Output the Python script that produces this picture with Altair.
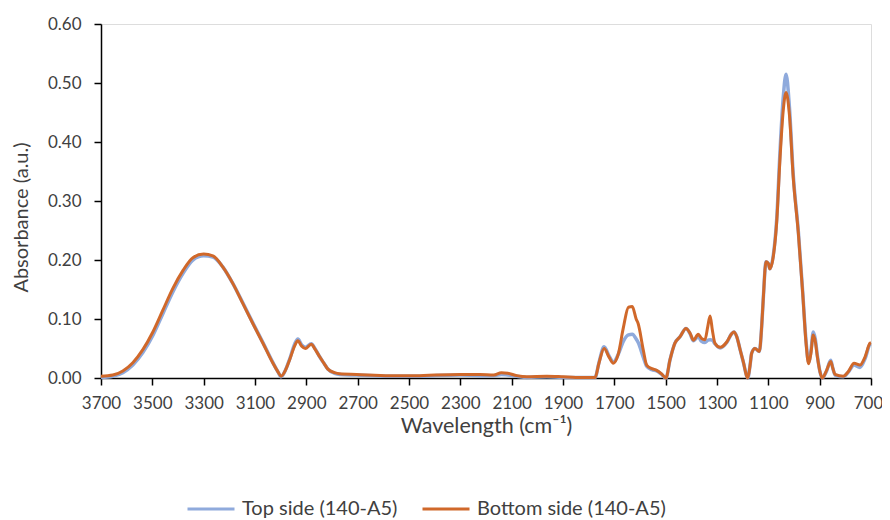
import altair as alt
import pandas as pd

# Wavenumbers (cm-1) shared by both spectra
wavenumber = [3700, 3654, 3615, 3576, 3537, 3498, 3459, 3420, 3381, 3342, 3300, 3264, 3225,
              3186, 3147, 3108, 3069, 3030, 3010, 2998, 2985, 2965, 2945, 2933, 2918, 2904,
              2881, 2865, 2848, 2830, 2816, 2790, 2770, 2705, 2575, 2458, 2400, 2300, 2223,
              2170, 2140, 2115, 2080, 2041, 1963, 1900, 1850, 1800, 1775, 1760, 1740, 1720,
              1704, 1685, 1665, 1645, 1630, 1615, 1607, 1587, 1574, 1554, 1535, 1516, 1499,
              1483, 1464, 1444, 1421, 1405, 1392, 1373, 1360, 1347, 1336, 1327, 1318, 1308,
              1288, 1262, 1243, 1234, 1223, 1210, 1198, 1180, 1171, 1165, 1152, 1135, 1126,
              1120, 1109, 1100, 1094, 1081, 1067, 1055, 1042, 1031, 1018, 1003, 983, 966,
              953, 943, 934, 925, 917, 909, 899, 890, 873, 857, 849, 840, 808, 788, 766,
              743, 723, 704, 700]

bottom_side = [0.003, 0.005, 0.012, 0.026, 0.048, 0.078, 0.115, 0.152, 0.182, 0.204, 0.210, 0.207, 0.188,
               0.160, 0.126, 0.092, 0.059, 0.025, 0.010, 0.003, 0.010, 0.031, 0.055, 0.063, 0.054, 0.050,
               0.057, 0.048, 0.036, 0.024, 0.015, 0.009, 0.007, 0.006, 0.004, 0.004, 0.005, 0.006, 0.006,
               0.005, 0.009, 0.008, 0.004, 0.002, 0.003, 0.002, 0.001, 0.001, 0.001, 0.025, 0.050, 0.035,
               0.025, 0.040, 0.085, 0.120, 0.121, 0.100, 0.092, 0.047, 0.022, 0.016, 0.013, 0.007, 0.000,
               0.031, 0.059, 0.070, 0.084, 0.076, 0.064, 0.074, 0.067, 0.065, 0.087, 0.105, 0.081, 0.059,
               0.052, 0.061, 0.075, 0.078, 0.070, 0.048, 0.028, 0.000, 0.022, 0.042, 0.050, 0.045, 0.087,
               0.132, 0.197, 0.194, 0.185, 0.205, 0.267, 0.368, 0.453, 0.484, 0.447, 0.340, 0.245, 0.143,
               0.059, 0.024, 0.042, 0.073, 0.062, 0.036, 0.011, 0.000, 0.013, 0.028, 0.017, 0.006, 0.003, 0.011, 0.025,
               0.022, 0.036, 0.059, 0.060]

top_side = [0.001, 0.003, 0.009, 0.022, 0.043, 0.072, 0.109, 0.146, 0.177, 0.200, 0.207, 0.205, 0.188,
            0.160, 0.127, 0.093, 0.060, 0.026, 0.010, 0.002, 0.010, 0.032, 0.058, 0.066, 0.056, 0.052,
            0.058, 0.049, 0.036, 0.024, 0.015, 0.008, 0.006, 0.005, 0.003, 0.003, 0.004, 0.005, 0.004,
            0.004, 0.006, 0.005, 0.003, 0.001, 0.002, 0.001, 0.001, 0.001, 0.001, 0.026, 0.053, 0.037,
            0.027, 0.040, 0.062, 0.073, 0.074, 0.066, 0.060, 0.035, 0.020, 0.014, 0.012, 0.006, 0.000,
            0.031, 0.059, 0.070, 0.084, 0.075, 0.063, 0.070, 0.062, 0.060, 0.064, 0.065, 0.064, 0.058,
            0.051, 0.060, 0.075, 0.078, 0.070, 0.048, 0.028, 0.000, 0.022, 0.042, 0.050, 0.045, 0.087,
            0.132, 0.197, 0.194, 0.185, 0.207, 0.272, 0.380, 0.475, 0.515, 0.460, 0.345, 0.248, 0.145,
            0.062, 0.027, 0.046, 0.078, 0.066, 0.038, 0.011, 0.000, 0.012, 0.030, 0.017, 0.005, 0.002, 0.010, 0.022,
            0.018, 0.033, 0.057, 0.058]

series_names = ["Top side (140-A5)", "Bottom side (140-A5)"]
series_colors = ["#8FAADC", "#D0682A"]
x_ticks = list(range(3700, 699, -200))
y_ticks = [0.0, 0.1, 0.2, 0.3, 0.4, 0.5, 0.6]

df = pd.concat([
    pd.DataFrame({"wn": wavenumber, "abs": top_side, "series": series_names[0]}),
    pd.DataFrame({"wn": wavenumber, "abs": bottom_side, "series": series_names[1]}),
])

FONT = "Lato"
TXT = "#404040"

x_enc = alt.X("wn:Q",
              scale=alt.Scale(domain=[700, 3700], reverse=True, nice=False, zero=False),
              axis=alt.Axis(values=x_ticks, format="d", title="Wavelength (cm⁻¹)",
                            grid=False, tickSize=7, labelPadding=10,
                            labelOverlap=False, labelFlush=False, labelBound=False,
                            labelOffset={"condition": {"test": "datum.value == 700", "value": -3}, "value": 0},
                            domainColor="black", tickColor="black", domainWidth=1.5, tickWidth=1.5,
                            labelFont=FONT, labelFontSize=17, labelColor=TXT,
                            titleFont=FONT, titleFontSize=21.5, titleFontWeight="normal", titleColor=TXT,
                            titleX=385, titleY=48, titleBaseline="middle", titleAlign="center"))
y_enc = alt.Y("abs:Q",
              scale=alt.Scale(domain=[0, 0.6], nice=False),
              axis=alt.Axis(values=y_ticks, format=".2f", title="Absorbance (a.u.)",
                            grid=False, tickSize=7, labelPadding=13,
                            labelOverlap=False, labelFlush=False,
                            domainColor="black", tickColor="black", domainWidth=1.5, tickWidth=1.5,
                            labelFont=FONT, labelFontSize=17, labelColor=TXT,
                            titleFont=FONT, titleFontSize=20, titleFontWeight="normal", titleColor=TXT,
                            titleX=-80, titleY=193, titleAngle=270, titleBaseline="middle", titleAlign="center"))
color_enc = alt.Color("series:N",
                      scale=alt.Scale(domain=series_names, range=series_colors),
                      legend=alt.Legend(orient="none", direction="horizontal", title=None,
                                        legendX=85, legendY=460,
                                        symbolType="stroke", symbolSize=2209, symbolStrokeWidth=3,
                                        labelFont=FONT, labelFontSize=20, labelColor=TXT,
                                        labelLimit=400, labelOffset=6, columnPadding=18))

base = alt.Chart(df)
top_line = base.transform_filter(alt.datum.series == series_names[0]).mark_line(
    strokeWidth=3.5, interpolate="monotone").encode(x=x_enc, y=y_enc, color=color_enc)
bottom_line = base.transform_filter(alt.datum.series == series_names[1]).mark_line(
    strokeWidth=3, interpolate="monotone").encode(x=x_enc, y=y_enc, color=color_enc)

chart = alt.layer(top_line, bottom_line).properties(
    width=770, height=354, autosize="none",
    padding={"left": 93, "top": 16, "right": 11, "bottom": 140},
).configure_view(stroke=None).configure(background="white")

chart.save("out.html", embed_options={"renderer": "svg", "actions": False})
